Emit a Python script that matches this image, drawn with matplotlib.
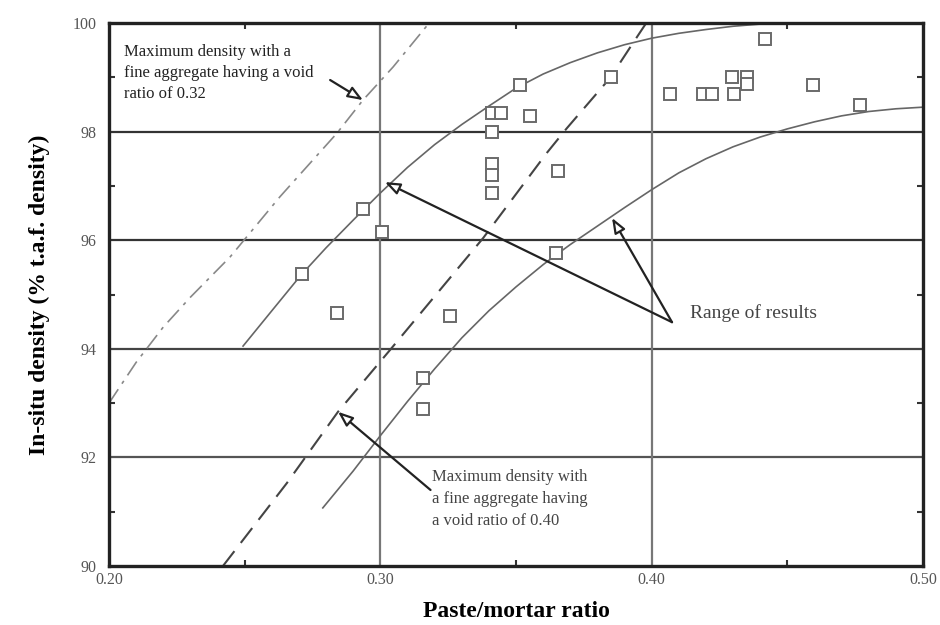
import matplotlib
matplotlib.use("Agg")
import matplotlib.pyplot as plt
from matplotlib.ticker import MultipleLocator, FixedLocator

plt.rcParams['font.family'] = ['Liberation Serif', 'DejaVu Serif']

# ---- data ----
pts_x = [0.2710, 0.2839, 0.2937, 0.3005, 0.3156, 0.3159, 0.3257, 0.3410, 0.3410, 0.3410,
         0.3410, 0.3410, 0.3443, 0.3515, 0.3550, 0.3648, 0.3654, 0.3849, 0.4068, 0.4190,
         0.4221, 0.4295, 0.4305, 0.4350, 0.4350, 0.4418, 0.4596, 0.4768]
pts_y = [95.38, 94.66, 96.57, 96.16, 93.46, 92.90, 94.61, 97.40, 97.20, 96.87,
         97.99, 98.35, 98.35, 98.86, 98.29, 95.77, 97.28, 99.00, 98.70, 98.70,
         98.70, 99.00, 98.69, 99.01, 98.88, 99.71, 98.86, 98.49]

upper_x = [0.2494, 0.260, 0.2708, 0.280, 0.290, 0.300, 0.310, 0.320, 0.330, 0.340,
           0.350, 0.360, 0.370, 0.380, 0.390, 0.400, 0.410, 0.420, 0.430, 0.440]
upper_y = [94.05, 94.70, 95.36, 95.86, 96.37, 96.87, 97.34, 97.76, 98.13, 98.47,
           98.80, 99.06, 99.27, 99.45, 99.60, 99.72, 99.81, 99.88, 99.94, 99.98]

lower_x = [0.2788, 0.290, 0.300, 0.310, 0.320, 0.330, 0.340, 0.350, 0.360, 0.3648,
           0.370, 0.380, 0.390, 0.400, 0.410, 0.420, 0.430, 0.440, 0.450, 0.460,
           0.470, 0.480, 0.490, 0.500]
lower_y = [91.07, 91.75, 92.40, 93.03, 93.63, 94.20, 94.70, 95.14, 95.55, 95.73,
           95.92, 96.26, 96.60, 96.93, 97.24, 97.50, 97.72, 97.90, 98.05, 98.18,
           98.29, 98.37, 98.42, 98.45]

void40_x = [0.2420, 0.2656, 0.2844, 0.3036, 0.3379, 0.3614, 0.3687, 0.3847, 0.3931, 0.3980]
void40_y = [90.00, 91.53, 92.84, 93.98, 96.04, 97.61, 98.06, 98.99, 99.63, 100.00]

void32_x = [0.2000, 0.2100, 0.2200, 0.2300, 0.2446, 0.2630, 0.2752, 0.2840, 0.2936, 0.3047, 0.3180]
void32_y = [93.00, 93.75, 94.40, 94.95, 95.69, 96.80, 97.48, 97.97, 98.58, 99.19, 100.00]

x_ticks = [0.20, 0.30, 0.40, 0.50]
x_labels = ["0.20", "0.30", "0.40", "0.50"]
y_ticks = [90, 92, 94, 96, 98, 100]
y_labels = ["90", "92", "94", "96", "98", "100"]

fig = plt.figure(figsize=(9.4, 6.25), dpi=100)
ax = fig.add_axes([109/940, 59/625, 814/940, 543/625])
ax.set_xlim(0.20, 0.50)
ax.set_ylim(90, 100)

# grid lines
for yv, c in [(92, '#555555'), (94, '#444444'), (96, '#333333'), (98, '#333333')]:
    ax.axhline(yv, color=c, lw=1.6, zorder=1)
for xv in [0.30, 0.40]:
    ax.axvline(xv, color='#777777', lw=1.6, zorder=1)

# curves
ax.plot(upper_x, upper_y, color='#666666', lw=1.2, zorder=2)
ax.plot(lower_x, lower_y, color='#666666', lw=1.2, zorder=2)
ax.plot(void40_x, void40_y, color='#444444', lw=1.5, dashes=(9, 5), zorder=2)
ax.plot(void32_x, void32_y, color='#888888', lw=1.2, dashes=(10, 4, 2, 4), zorder=2)

# data points
ax.plot(pts_x, pts_y, ls='none', marker='s', ms=9, mfc='white', mec='#6a6a6a', mew=1.4, zorder=3)

# frame and ticks
for s in ax.spines.values():
    s.set_linewidth(2.4)
    s.set_color('#222222')
ax.xaxis.set_major_locator(FixedLocator(x_ticks))
ax.yaxis.set_major_locator(FixedLocator(y_ticks))
ax.set_xticklabels(x_labels)
ax.set_yticklabels(y_labels)
ax.xaxis.set_minor_locator(MultipleLocator(0.05))
ax.yaxis.set_minor_locator(MultipleLocator(1))
ax.tick_params(which='major', length=0, labelsize=11.5, labelcolor='#555555')
ax.tick_params(axis='y', which='major', pad=9)
ax.tick_params(axis='x', which='major', pad=4)
ax.tick_params(which='minor', direction='in', length=4, width=1.5, color='#333333',
               top=True, right=True)

ax.set_xlabel('Paste/mortar ratio', fontsize=17, fontweight='bold', labelpad=10)
ax.set_ylabel('In-situ density (% t.a.f. density)', fontsize=17, fontweight='bold', labelpad=16)

arrow_kw = dict(arrowstyle='-|>,head_length=0.9,head_width=0.35', color='#222222', lw=1.6,
                shrinkA=0, shrinkB=0)

# annotations
ax.text(0.2057, 99.62, 'Maximum density with a\nfine aggregate having a void\nratio of 0.32',
        fontsize=12, color='#222222', va='top', ha='left', linespacing=1.42)
ax.annotate('', xy=(0.2936, 98.58), xytext=(0.2815, 98.95),
            arrowprops=dict(arrow_kw, fc='white'))

ax.text(0.4141, 94.65, 'Range of results', fontsize=14, color='#444444', va='center', ha='left')
ax.annotate('', xy=(0.3017, 97.07), xytext=(0.4075, 94.49),
            arrowprops=dict(arrow_kw, fc='white'))
ax.annotate('', xy=(0.3854, 96.41), xytext=(0.4075, 94.49),
            arrowprops=dict(arrow_kw, fc='white'))

ax.text(0.3190, 91.78, 'Maximum density with\na fine aggregate having\na void ratio of 0.40',
        fontsize=12, color='#444444', va='top', ha='left', linespacing=1.5)
ax.annotate('', xy=(0.2844, 92.84), xytext=(0.3185, 91.40),
            arrowprops=dict(arrow_kw, fc='white'))

fig.savefig('out.png', dpi=100)
